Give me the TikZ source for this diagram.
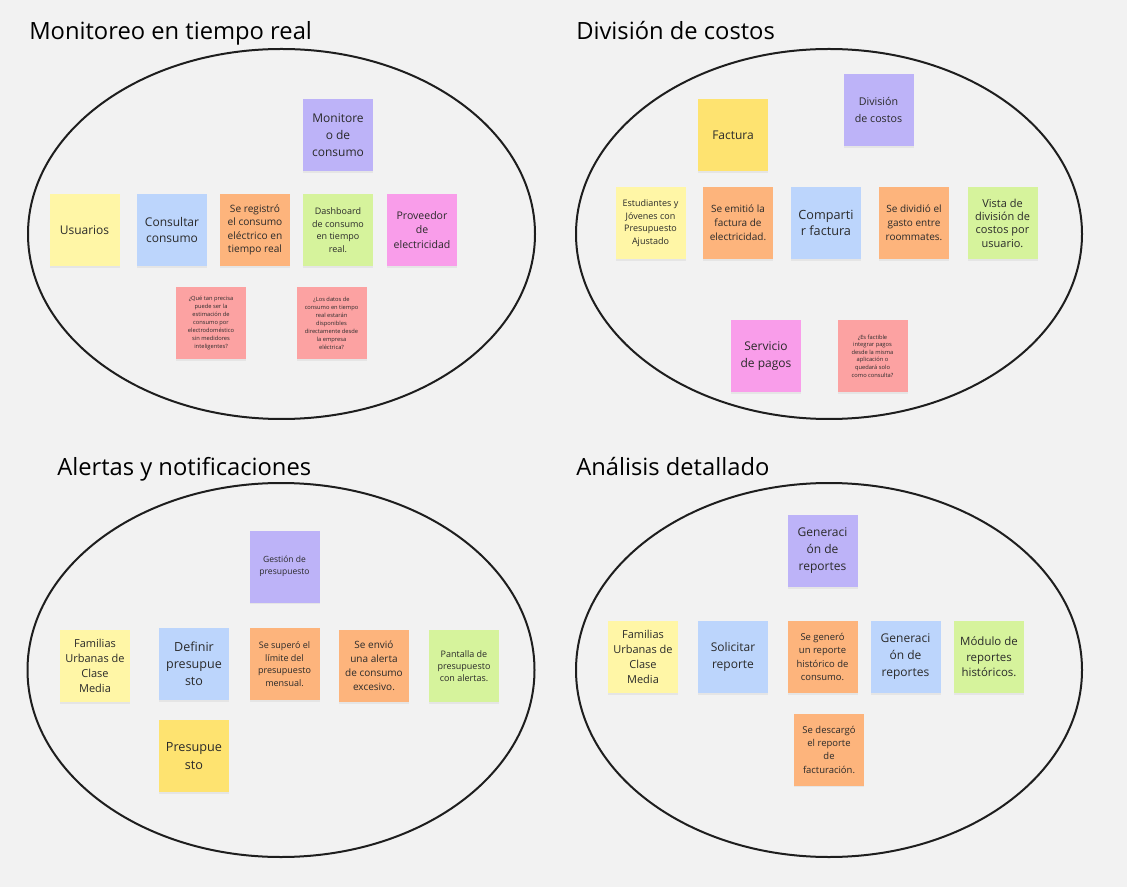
\documentclass[tikz,border=0pt]{standalone}
\usepackage{fontspec}
\setmainfont{Open Sans}
\usetikzlibrary{shadows}
\definecolor{bg}{HTML}{F2F2F2}
\definecolor{ink}{HTML}{1E1E1E}
\definecolor{txt}{HTML}{2A2A2A}
\definecolor{cLY}{HTML}{FFF6A6}
\definecolor{cYL}{HTML}{FEE370}
\definecolor{cBL}{HTML}{BCD5FC}
\definecolor{cOR}{HTML}{FDB47C}
\definecolor{cGR}{HTML}{D6F39C}
\definecolor{cPK}{HTML}{F99DEA}
\definecolor{cVI}{HTML}{BDB3F8}
\definecolor{cRD}{HTML}{FCA2A2}
\tikzset{
  sticky/.style={minimum width=52.5pt, minimum height=54pt, inner sep=1pt,
    align=center, draw=none, text=txt,
    copy shadow={shadow xshift=0pt, shadow yshift=-1.2pt, fill=black!10, draw=none}},
  ring/.style={draw=ink, line width=1.5pt},
  heading/.style={anchor=base west, inner sep=0pt, text=black,
    font=\fontsize{17.8}{22}\selectfont},
  fA/.style={font=\fontsize{9}{12.5}\selectfont},
  fB/.style={font=\fontsize{7.5}{10}\selectfont},
  fC/.style={font=\fontsize{6.75}{9.4}\selectfont},
  fD/.style={font=\fontsize{4.3}{6}\selectfont}
}
\begin{document}
\begin{tikzpicture}[x=0.75pt,y=-0.75pt]
\useasboundingbox[fill=bg] (0,0) rectangle (1127,887);

% ellipses
\draw[ring] (281.5,234) ellipse [x radius=253.5, y radius=185];
\draw[ring] (829,234) ellipse [x radius=253, y radius=185];
\draw[ring] (281,670) ellipse [x radius=253.5, y radius=187];
\draw[ring] (829,670) ellipse [x radius=253, y radius=187];

% titles
\node[heading] (t1) at (29,40) {Monitoreo en tiempo real};
\node[heading] (t2) at (576,40) {División de costos};
\node[heading] (t3) at (57,475) {Alertas y notificaciones};
\node[heading] (t4) at (576,475) {Análisis detallado};

% --- Monitoreo en tiempo real
\node[sticky, fill=cVI, fA] (mon) at (338,135) {Monitore\\o de\\consumo};
\node[sticky, fill=cLY, fA] (usu) at (84.5,230) {Usuarios};
\node[sticky, fill=cBL, fA] (con) at (172,230) {Consultar\\consumo};
\node[sticky, fill=cOR, font=\fontsize{7.6}{10}\selectfont] (reg) at (255,230) {Se registró\\el consumo\\eléctrico en\\tiempo real};
\node[sticky, fill=cGR, fC] (das) at (338,230) {Dashboard\\de consumo\\en tiempo\\real.};
\node[sticky, fill=cPK, font=\fontsize{7.9}{10.9}\selectfont] (pro) at (422,230) {Proveedor\\de\\electricidad};
\node[sticky, fill=cRD, fD] (q1) at (211,323) {¿Qué tan precisa\\puede ser la\\estimación de\\consumo por\\electrodoméstico\\sin medidores\\inteligentes?};
\node[sticky, fill=cRD, fD] (q2) at (331.5,323) {¿Los datos de\\consumo en tiempo\\real estarán\\disponibles\\directamente desde\\la empresa\\eléctrica?};

% --- División de costos
\node[sticky, fill=cYL, fA] (fac) at (733,135) {Factura};
\node[sticky, fill=cVI, font=\fontsize{8}{12.5}\selectfont] (div) at (878.5,110) {División\\de costos};
\node[sticky, fill=cLY, fC] (est) at (650.5,223) {Estudiantes y\\Jóvenes con\\Presupuesto\\Ajustado};
\node[sticky, fill=cOR, font=\fontsize{7.5}{10.5}\selectfont] (emi) at (738,223) {Se emitió la\\factura de\\electricidad.};
\node[sticky, fill=cBL, font=\fontsize{9.5}{12.5}\selectfont] (com) at (826,223) {Comparti\\r factura};
\node[sticky, fill=cOR, font=\fontsize{7.5}{10.5}\selectfont] (dvd) at (914,223) {Se dividió el\\gasto entre\\roommates.};
\node[sticky, fill=cGR, font=\fontsize{8.25}{10}\selectfont] (vis) at (1002.5,223) {Vista de\\división de\\costos por\\usuario.};
\node[sticky, fill=cPK, fA] (ser) at (766,356) {Servicio\\de pagos};
\node[sticky, fill=cRD, font=\fontsize{4.3}{5.7}\selectfont] (q3) at (872.5,356) {¿Es factible\\integrar pagos\\desde la misma\\aplicación o\\quedará solo\\como consulta?};

% --- Alertas y notificaciones
\node[sticky, fill=cVI, font=\fontsize{6.4}{8.8}\selectfont] (ges) at (284.5,566.5) {Gestión de\\presupuesto};
\node[sticky, fill=cLY, font=\fontsize{8.25}{11.25}\selectfont] (fam) at (95,666) {Familias\\Urbanas de\\Clase\\Media};
\node[sticky, fill=cBL, font=\fontsize{9.4}{12.75}\selectfont] (def) at (194,664) {Definir\\presupue\\sto};
\node[sticky, fill=cOR, fC] (sup) at (284.5,664) {Se superó el\\límite del\\presupuesto\\mensual.};
\node[sticky, fill=cOR, font=\fontsize{7.5}{10.5}\selectfont] (env) at (374,666) {Se envió\\una alerta\\de consumo\\excesivo.};
\node[sticky, fill=cGR, font=\fontsize{6.75}{9}\selectfont] (pan) at (464,666) {Pantalla de\\presupuesto\\con alertas.};
\node[sticky, fill=cYL, font=\fontsize{9.5}{13}\selectfont] (pre) at (194,756) {Presupue\\sto};

% --- Análisis detallado
\node[sticky, fill=cVI, font=\fontsize{9}{12.75}\selectfont] (gen1) at (822.5,551) {Generaci\\ón de\\reportes};
\node[sticky, fill=cLY, font=\fontsize{8.25}{11.25}\selectfont] (fam2) at (643,657) {Familias\\Urbanas de\\Clase\\Media};
\node[sticky, fill=cBL, font=\fontsize{9}{12.75}\selectfont] (sol) at (733,657) {Solicitar\\reporte};
\node[sticky, fill=cOR, font=\fontsize{7.1}{10}\selectfont] (sgn) at (822.5,657) {Se generó\\un reporte\\histórico de\\consumo.};
\node[sticky, fill=cBL, font=\fontsize{9}{12.75}\selectfont] (gen2) at (905.5,657) {Generaci\\ón de\\reportes};
\node[sticky, fill=cGR, font=\fontsize{8.6}{11.6}\selectfont] (mod) at (989,657) {Módulo de\\reportes\\históricos.};
\node[sticky, fill=cOR, font=\fontsize{7.1}{10}\selectfont] (des) at (829,749.5) {Se descargó\\el reporte\\de\\facturación.};
\end{tikzpicture}
\end{document}
